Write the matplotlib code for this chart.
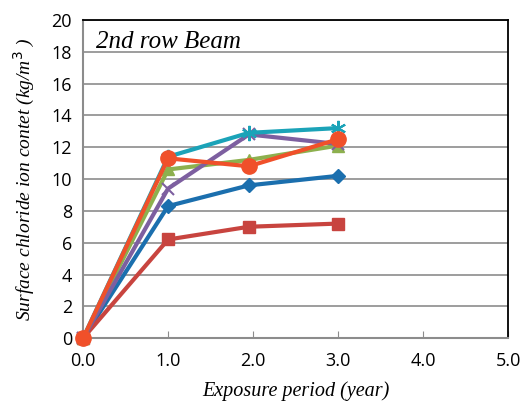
import matplotlib
matplotlib.use('Agg')
import matplotlib.pyplot as plt

# exposure period (year)
years = [0.0, 1.0, 1.95, 3.0]

# surface chloride ion content (kg/m3) per series
s_diamond = [0.0, 8.3, 9.6, 10.2]
s_square = [0.0, 6.2, 7.0, 7.2]
s_triangle = [0.0, 10.6, 11.2, 12.1]
s_cross = [0.0, 9.4, 12.8, 12.2]
s_star = [0.0, 11.4, 12.9, 13.2]
s_circle = [0.0, 11.3, 10.8, 12.5]

xticks = [0, 1, 2, 3, 4, 5]
yticks = [0, 2, 4, 6, 8, 10, 12, 14, 16, 18, 20]

fig = plt.figure(figsize=(5.26, 4.05), dpi=100)
ax = fig.add_axes([0.158, 0.165, 0.808, 0.786])

kw = dict(lw=3, clip_on=False)
ax.plot(years, s_diamond, color='#1B6FAE', marker='D', markersize=7, zorder=3, **kw)
ax.plot(years, s_square, color='#C8443F', marker='s', markersize=9, zorder=3, **kw)
ax.plot(years, s_triangle, color='#8DB04E', marker='^', markersize=9, zorder=3, **kw)
ax.plot(years, s_cross, color='#7D5FA0', marker='x', markersize=9, mew=1.5, zorder=3, **kw)
ax.plot(years, s_star, color='#1BA3B8', marker=(6, 2, 0), markersize=11, mew=1.5, zorder=4, **kw)
ax.plot(years, s_circle, color='#F0502A', marker='o', markersize=11, zorder=5, **kw)

ax.set_xlim(0, 5)
ax.set_ylim(0, 20)
ax.set_xticks(xticks)
ax.set_xticklabels(['%.1f' % v for v in xticks])
ax.set_yticks(yticks)
ax.grid(axis='y', color='#8c8c8c', lw=1.2)
ax.set_axisbelow(True)

for side in ['top', 'right']:
    ax.spines[side].set_color('black')
    ax.spines[side].set_linewidth(1.3)
for side in ['left', 'bottom']:
    ax.spines[side].set_color('#8c8c8c')
    ax.spines[side].set_linewidth(1.5)

ax.tick_params(axis='x', direction='in', length=5, color='#8c8c8c', pad=10,
               labelsize=13)
ax.tick_params(axis='y', length=0, pad=8, labelsize=13)
for lab in ax.get_xticklabels() + ax.get_yticklabels():
    lab.set_family('Open Sans')

ax.set_xlabel('Exposure period (year)', family='Liberation Serif', style='italic',
              fontsize=14.5, labelpad=8)
ax.set_ylabel('Surface chloride ion contet (kg/m$^3$ )', family='Liberation Serif',
              style='italic', fontsize=14, labelpad=10)
ax.text(0.03, 0.965, '2nd row Beam', transform=ax.transAxes, family='Liberation Serif',
        style='italic', fontsize=18, va='top', ha='left')

fig.savefig('out.png', dpi=100)
